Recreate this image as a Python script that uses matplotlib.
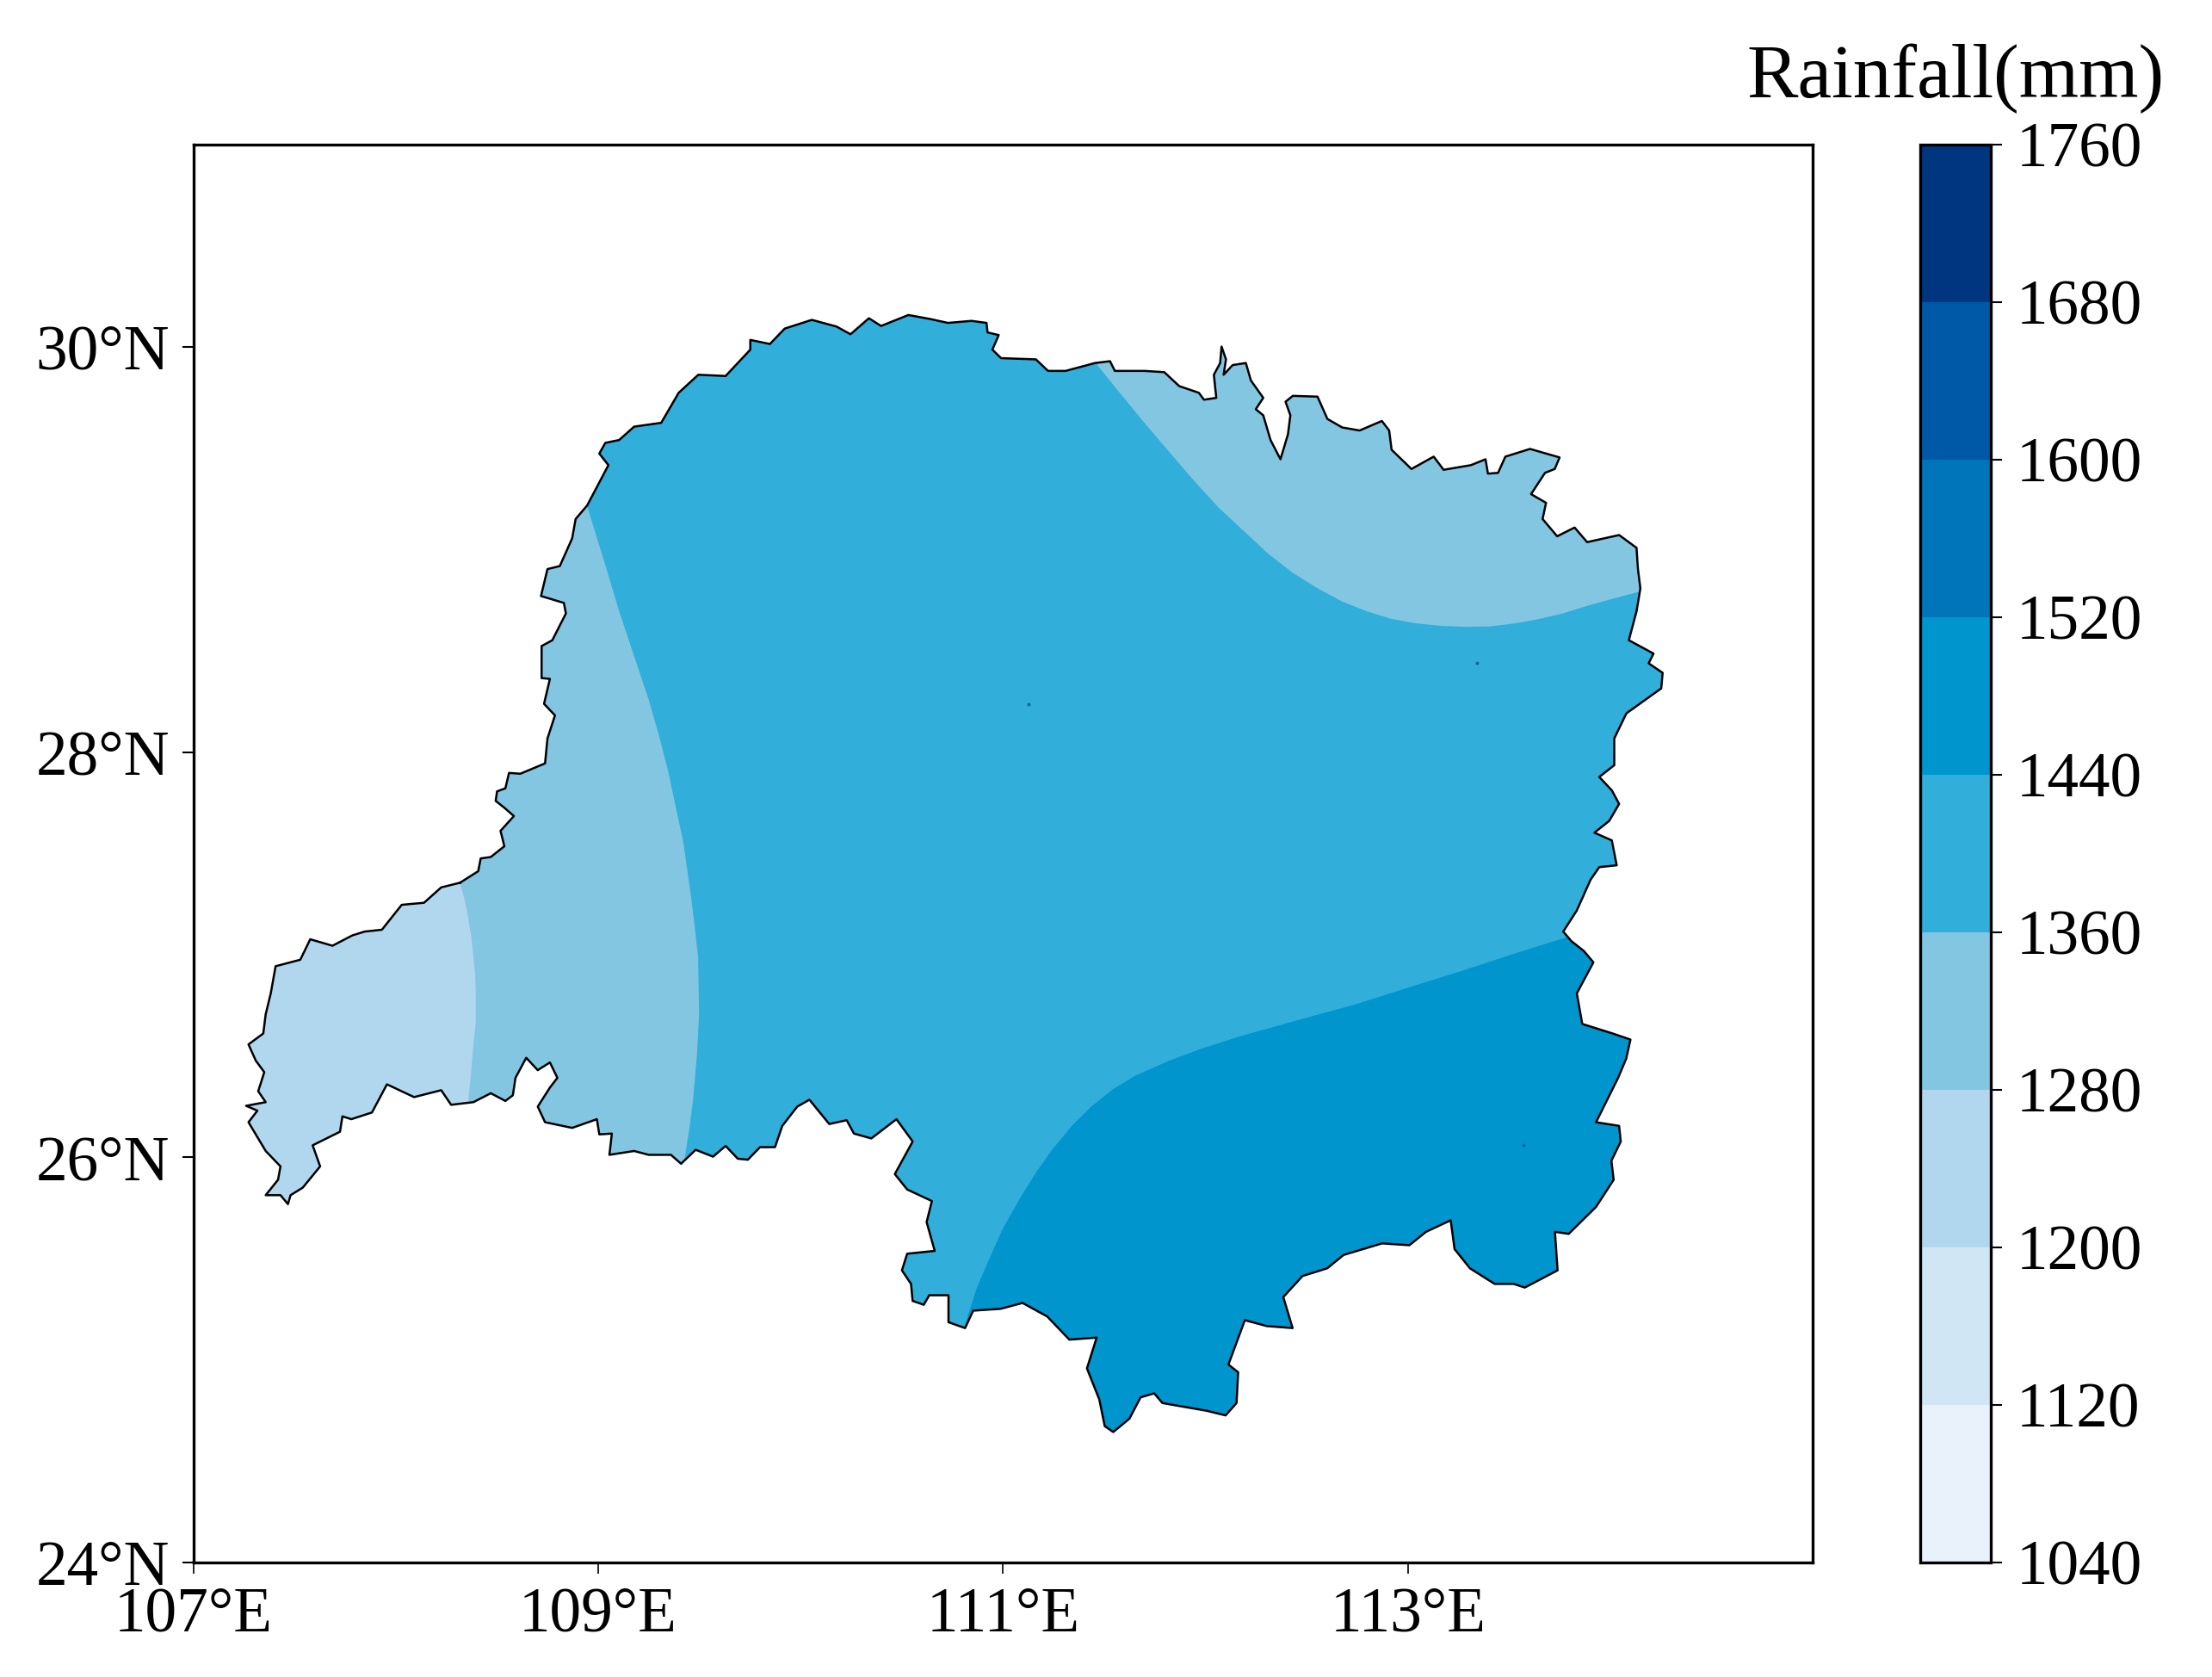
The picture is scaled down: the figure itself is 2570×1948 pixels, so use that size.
import matplotlib
matplotlib.use("Agg")
import matplotlib.pyplot as plt
from matplotlib.colors import BoundaryNorm, ListedColormap
from matplotlib.cm import ScalarMappable
from matplotlib.path import Path
from matplotlib.patches import PathPatch

plt.rcParams["font.family"] = ["Liberation Serif", "DejaVu Serif"]

levels = [1040, 1120, 1200, 1280, 1360, 1440, 1520, 1600, 1680, 1760]
band_colors = ["#E9F1FB", "#D1E6F5", "#B1D7EE", "#83C6E2", "#31AEDA",
               "#0095CC", "#0075BA", "#0059A6", "#00367F"]

xticks = [107, 109, 111, 113]
yticks = [24, 26, 28, 30]

# region outline, clockwise from the west
outline_lon = [
    108.318, 108.408, 108.420, 108.470, 108.537, 108.518, 108.584, 108.537, 108.494, 108.501,
    108.542, 108.560, 108.616, 108.738, 108.750, 108.787, 108.733, 108.762, 108.721, 108.721,
    108.774, 108.841, 108.831, 108.718, 108.750, 108.811, 108.872, 108.889, 108.946, 109.051,
    109.006, 109.036, 109.104, 109.178, 109.312, 109.398, 109.495, 109.630, 109.752, 109.752,
    109.849, 109.922, 110.056, 110.178, 110.247, 110.338, 110.398, 110.533, 110.642, 110.728,
    110.845, 110.919, 110.924, 110.979, 110.948, 110.991, 111.163, 111.223, 111.309, 111.455,
    111.529, 111.553, 111.700, 111.797, 111.871, 111.968, 111.993, 112.054, 112.042, 112.073,
    112.080, 112.102, 112.090, 112.135, 112.200, 112.225, 112.286, 112.249, 112.286, 112.322,
    112.371, 112.408, 112.420, 112.396, 112.432, 112.554, 112.603, 112.676, 112.762, 112.872,
    112.908, 112.920, 113.018, 113.128, 113.177, 113.312, 113.384, 113.396, 113.446, 113.482,
    113.604, 113.750, 113.726, 113.678, 113.609, 113.683, 113.666, 113.738, 113.824, 113.886,
    114.044, 114.130, 114.137, 114.149, 114.130, 114.092, 114.214, 114.190, 114.259, 114.252,
    114.080, 114.020, 114.020, 113.946, 114.008, 114.044, 113.995, 113.922, 114.008, 114.032,
    113.946, 113.903, 113.835, 113.768, 113.808, 113.870, 113.917, 113.835, 113.862, 114.012,
    114.100, 114.079, 114.039, 113.930, 114.044, 114.052, 114.006, 114.017, 113.930, 113.795,
    113.727, 113.740, 113.578, 113.523, 113.429, 113.307, 113.231, 113.212, 113.090, 113.008,
    112.873, 112.683, 112.602, 112.480, 112.385, 112.431, 112.303, 112.195, 112.114, 112.162,
    112.154, 112.100, 112.006, 111.788, 111.747, 111.680, 111.625, 111.545, 111.503, 111.476,
    111.415, 111.463, 111.328, 111.219, 111.097, 110.988, 110.853, 110.813, 110.731, 110.731,
    110.636, 110.609, 110.554, 110.546, 110.501, 110.527, 110.663, 110.623, 110.649, 110.527,
    110.466, 110.554, 110.474, 110.350, 110.264, 110.228, 110.142, 110.044, 109.984, 109.910,
    109.874, 109.800, 109.740, 109.690, 109.630, 109.568, 109.482, 109.410, 109.360, 109.250,
    109.178, 109.056, 109.068, 109.006, 108.994, 108.872, 108.738, 108.702, 108.762, 108.799,
    108.762, 108.702, 108.645, 108.592, 108.579, 108.542, 108.470, 108.384, 108.274, 108.225,
    108.091, 107.957, 107.883, 107.781, 107.737, 107.725, 107.590, 107.627, 107.541, 107.481,
    107.468, 107.431, 107.358, 107.419, 107.431, 107.358, 107.273, 107.317, 107.261, 107.358,
    107.321, 107.351, 107.309, 107.273, 107.346, 107.358, 107.383, 107.407, 107.529, 107.578,
    107.688, 107.786, 107.847, 107.932, 108.030, 108.140, 108.225,
]
outline_lat = [
    27.355, 27.412, 27.475, 27.482, 27.535, 27.611, 27.684, 27.725, 27.759, 27.806,
    27.821, 27.897, 27.893, 27.944, 28.067, 28.181, 28.238, 28.361, 28.365, 28.523,
    28.552, 28.684, 28.736, 28.770, 28.903, 28.918, 29.055, 29.150, 29.217, 29.416,
    29.473, 29.526, 29.540, 29.606, 29.625, 29.773, 29.862, 29.856, 29.986, 30.034,
    30.014, 30.090, 30.133, 30.100, 30.062, 30.141, 30.103, 30.157, 30.137, 30.118,
    30.128, 30.118, 30.071, 30.058, 29.986, 29.944, 29.938, 29.881, 29.881, 29.920,
    29.929, 29.881, 29.881, 29.875, 29.806, 29.773, 29.739, 29.748, 29.862, 29.920,
    30.001, 29.938, 29.862, 29.910, 29.920, 29.834, 29.748, 29.692, 29.662, 29.540,
    29.445, 29.568, 29.662, 29.729, 29.758, 29.754, 29.644, 29.602, 29.587, 29.634,
    29.587, 29.492, 29.397, 29.458, 29.393, 29.416, 29.445, 29.374, 29.378, 29.458,
    29.496, 29.454, 29.397, 29.378, 29.273, 29.230, 29.150, 29.065, 29.108, 29.036,
    29.071, 29.008, 28.903, 28.808, 28.694, 28.552, 28.486, 28.438, 28.391, 28.314,
    28.191, 28.067, 27.935, 27.877, 27.811, 27.744, 27.660, 27.602, 27.564, 27.441,
    27.432, 27.370, 27.218, 27.114, 27.067, 27.018, 26.962, 26.809, 26.658, 26.611,
    26.581, 26.487, 26.392, 26.173, 26.155, 26.078, 25.983, 25.889, 25.755, 25.622,
    25.632, 25.442, 25.357, 25.375, 25.375, 25.452, 25.547, 25.689, 25.632, 25.566,
    25.575, 25.518, 25.452, 25.414, 25.310, 25.157, 25.167, 25.196, 24.977, 24.939,
    24.787, 24.726, 24.749, 24.787, 24.835, 24.815, 24.710, 24.644, 24.673, 24.805,
    24.958, 25.110, 25.100, 25.214, 25.281, 25.252, 25.243, 25.157, 25.186, 25.319,
    25.319, 25.272, 25.291, 25.375, 25.442, 25.524, 25.538, 25.680, 25.784, 25.841,
    25.917, 26.078, 26.188, 26.093, 26.117, 26.183, 26.164, 26.284, 26.250, 26.155,
    26.050, 26.050, 25.988, 25.993, 26.056, 26.003, 26.037, 25.968, 26.012, 26.012,
    26.031, 26.012, 26.117, 26.113, 26.188, 26.145, 26.173, 26.250, 26.344, 26.392,
    26.468, 26.430, 26.491, 26.392, 26.306, 26.278, 26.316, 26.272, 26.259, 26.331,
    26.297, 26.360, 26.221, 26.188, 26.202, 26.126, 26.059, 25.955, 25.850, 25.813,
    25.769, 25.813, 25.813, 25.889, 25.955, 26.031, 26.173, 26.230, 26.254, 26.272,
    26.326, 26.420, 26.477, 26.557, 26.611, 26.706, 26.809, 26.943, 26.975, 27.076,
    27.044, 27.095, 27.114, 27.123, 27.246, 27.256, 27.332,
]

# rainfall band edges
west_lon = [108.318, 108.342, 108.359, 108.374, 108.384, 108.393, 108.396, 108.396, 108.384, 108.371, 108.359]
west_lat = [27.355, 27.266, 27.180, 27.085, 26.990, 26.896, 26.801, 26.668, 26.554, 26.402, 26.279]
mid_lon = [108.945, 109.030, 109.104, 109.177, 109.250, 109.299, 109.348, 109.384, 109.421,
           109.458, 109.477, 109.494, 109.499, 109.489, 109.470, 109.450, 109.426]
mid_lat = [29.217, 28.942, 28.695, 28.477, 28.259, 28.088, 27.898, 27.727, 27.557,
           27.295, 27.142, 26.990, 26.706, 26.516, 26.288, 26.136, 25.984]
ne_lon = [111.466, 111.576, 111.698, 111.820, 111.942, 112.064, 112.186, 112.309, 112.431, 112.553, 112.675, 112.797,
          112.919, 113.041, 113.163, 113.285, 113.407, 113.529, 113.651, 113.773, 113.895, 114.017, 114.139]
ne_lat = [29.910, 29.774, 29.626, 29.483, 29.341, 29.208, 29.094, 28.980, 28.885, 28.809, 28.743, 28.695,
          28.657, 28.635, 28.623, 28.618, 28.620, 28.635, 28.657, 28.686, 28.724, 28.758, 28.790]
se_lon = [110.826, 110.872, 110.921, 110.997, 111.083, 111.165, 111.246, 111.341, 111.436, 111.544, 111.653,
          111.815, 111.978, 112.168, 112.358, 112.548, 112.737, 113.008, 113.280, 113.524, 113.781]
se_lat = [25.216, 25.358, 25.472, 25.643, 25.795, 25.927, 26.041, 26.155, 26.250, 26.336, 26.402,
          26.474, 26.535, 26.596, 26.649, 26.702, 26.753, 26.839, 26.924, 27.004, 27.085]

speck_lon = [111.125, 113.34, 113.57]
speck_lat = [28.237, 28.44, 26.06]


def main():
    fig = plt.figure(figsize=(2570 / 300, 1948 / 300), dpi=300)
    ax = fig.add_axes([224.5 / 2570, 1 - 1815 / 1948, (2106 - 224.5) / 2570, (1815 - 167.5) / 1948])

    # main band first, the others are cut to the outline
    outline = list(zip(outline_lon, outline_lat))
    clip = PathPatch(Path(outline + outline[:1], closed=False), transform=ax.transData, fc="none", ec="none")
    ax.add_patch(clip)

    def band(lons, lats, color):
        poly = ax.fill(lons, lats, color=color, lw=0, zorder=2)[0]
        poly.set_clip_path(clip)

    band([106, 115, 115, 106], [20, 20, 32, 32], band_colors[4])
    band(mid_lon + [109.3, 107, 107, 108.6], mid_lat + [25, 25, 30, 30], band_colors[3])
    band([111.3] + ne_lon + [115, 115, 111.3], [30.2] + ne_lat + [28.9, 31, 31], band_colors[3])
    band(west_lon + [108.3, 107, 107, 108.2], west_lat + [25, 25, 28, 28], band_colors[2])
    band(se_lon + [115, 115, 110.6], se_lat + [27.3, 24, 24], band_colors[5])

    ax.scatter(speck_lon, speck_lat, s=0.8, color="#0B5E9E", lw=0, zorder=3)
    ax.plot(outline_lon + outline_lon[:1], outline_lat + outline_lat[:1],
            color="k", lw=0.6, zorder=4)

    ax.set_xlim(107, 115)
    ax.set_ylim(24, 31)
    ax.set_xticks(xticks)
    ax.set_yticks(yticks)
    ax.set_xticklabels([f"{v}°E" for v in xticks], fontsize=17.6)
    ax.set_yticklabels([f"{v}°N" for v in yticks], fontsize=17.6)
    ax.tick_params(axis="x", length=3.2, width=0.4, pad=3.6)
    ax.tick_params(axis="y", length=3.2, width=0.5, pad=3.4)

    cax = fig.add_axes([2231 / 2570, 1 - 1815 / 1948, 82 / 2570, (1815 - 167.5) / 1948])
    cmap = ListedColormap(band_colors)
    norm = BoundaryNorm(levels, cmap.N)
    cb = fig.colorbar(ScalarMappable(norm=norm, cmap=cmap), cax=cax, ticks=levels, spacing="proportional")
    cb.ax.tick_params(labelsize=17.6, length=3, width=0.5, pad=4)
    cax.set_title("Rainfall(mm)", fontsize=21.4, pad=13)

    fig.savefig("out.png", dpi=300)


if __name__ == "__main__":
    main()
